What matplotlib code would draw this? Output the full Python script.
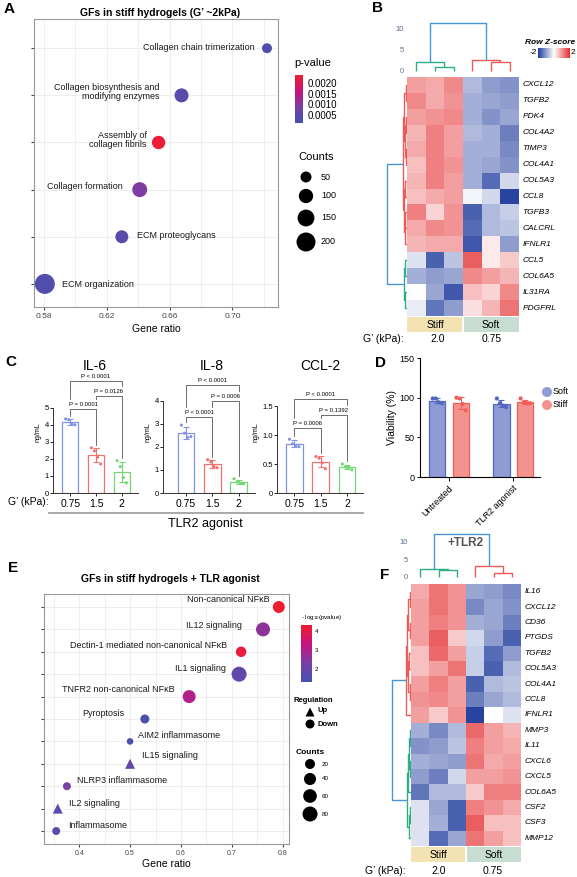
import numpy as np
import matplotlib.pyplot as plt
from matplotlib.colors import LinearSegmentedColormap, Normalize
from matplotlib.patches import Rectangle

plt.rcParams['font.family'] = ['Liberation Sans', 'DejaVu Sans']
plt.rcParams['mathtext.fontset'] = 'custom'
plt.rcParams['mathtext.rm'] = 'Liberation Sans'

# ---------------- data ----------------
# A: pathway enrichment, stiff hydrogels
a_terms = ['ECM organization', 'ECM proteoglycans', 'Collagen formation',
           'Assembly of\ncollagen fibrils', 'Collagen biosynthesis and\nmodifying enzymes',
           'Collagen chain trimerization']
a_ratio = [0.5806, 0.6296, 0.641, 0.653, 0.6676, 0.722]
a_pval = [0.0003, 0.0004, 0.0009, 0.0023, 0.0004, 0.0003]
a_counts = [226, 78, 112, 84, 95, 38]

# B: heatmap (3 stiff, 3 soft)
b_genes = ['CXCL12', 'TGFB2', 'PDK4', 'COL4A2', 'TIMP3', 'COL4A1', 'COL5A3', 'CCL8',
           'TGFB3', 'CALCRL', 'IFNLR1', 'CCL5', 'COL6A5', 'IL31RA', 'PDGFRL']
b_z = [[0.9, 0.8, 1.1, -0.7, -1.0, -1.1],
       [1.1, 0.8, 1.0, -0.8, -0.9, -1.0],
       [0.9, 1.0, 1.1, -0.8, -1.1, -0.9],
       [0.7, 1.2, 0.9, -0.7, -0.8, -1.3],
       [0.8, 1.2, 0.9, -0.8, -0.8, -1.2],
       [0.6, 1.2, 1.0, -0.8, -0.9, -1.1],
       [0.7, 1.2, 0.9, -0.8, -1.5, -0.4],
       [0.6, 0.8, 0.9, -0.1, -0.4, -1.9],
       [1.2, 0.4, 1.0, -1.6, -0.7, -0.5],
       [0.8, 1.1, 1.0, -1.5, -0.7, -0.6],
       [0.7, 0.8, 0.8, -1.7, 0.2, -1.0],
       [-0.3, -1.6, -0.6, 1.5, 0.2, 0.5],
       [-0.8, -1.0, -0.9, 1.1, 0.9, 0.7],
       [0.0, -0.9, -1.7, 0.6, 0.4, 1.1],
       [-0.2, -1.4, -1.0, 0.3, 0.7, 1.3]]

# C: cytokines (ng/mL), G' 0.75 / 1.5 / 2 kPa
c_groups = ['0.75', '1.5', '2']
il6_pts = [[4.35, 4.3, 4.06, 4.0], [2.65, 2.47, 2.1, 1.7], [1.9, 1.55, 0.9, 0.6]]
il8_pts = [[2.95, 2.6, 2.42, 2.45], [1.45, 1.35, 1.15, 1.1], [0.62, 0.48, 0.42, 0.40]]
ccl2_pts = [[0.93, 0.85, 0.82, 0.8], [0.63, 0.60, 0.52, 0.42], [0.50, 0.45, 0.44, 0.40]]
il6_sig = [(0, 1, 'P = 0.0001'), (1, 2, 'P = 0.0126'), (0, 2, 'P < 0.0001')]
il8_sig = [(0, 1, 'P < 0.0001'), (1, 2, 'P = 0.0006'), (0, 2, 'P < 0.0001')]
ccl2_sig = [(0, 1, 'P = 0.0006'), (1, 2, 'P = 0.1392'), (0, 2, 'P < 0.0001')]

# D: viability (%)
d_groups = ['Untreated', 'TLR2 agonist']
d_soft_pts = [[99, 99, 94, 93], [99, 93, 90, 88]]
d_stiff_pts = [[100, 99, 92, 84], [99, 94, 93, 93]]

# E: pathway enrichment + TLR agonist
e_terms = ['Inflammasome', 'IL2 signaling', 'NLRP3 inflammasome', 'IL15 signaling',
           'AIM2 inflammasome', 'Pyroptosis', 'TNFR2 non-canonical NFκB', 'IL1 signaling',
           'Dectin-1 mediated non-canonical NFκB', 'IL12 signaling', 'Non-canonical NFκB']
e_ratio = [0.355, 0.358, 0.376, 0.5, 0.5, 0.529, 0.616, 0.714, 0.718, 0.761, 0.792]
e_logp = [1.8, 1.8, 2.3, 2.0, 1.5, 1.5, 3.0, 1.9, 4.1, 2.6, 4.25]
e_counts = [7, 20, 7, 20, 2, 13, 51, 80, 24, 65, 39]
e_reg = ['Down', 'Up', 'Down', 'Up', 'Down', 'Down', 'Down', 'Down', 'Down', 'Down', 'Down']

# F: heatmap + TLR2
f_genes = ['IL16', 'CXCL12', 'CD36', 'PTGDS', 'TGFB2', 'COL5A3', 'COL4A1', 'CCL8', 'IFNLR1',
           'MMP3', 'IL11', 'CXCL6', 'CXCL5', 'COL6A5', 'CSF2', 'CSF3', 'MMP12']
f_z = [[0.8, 1.3, 1.0, -0.9, -1.0, -1.2],
       [0.9, 1.3, 1.0, -1.2, -0.9, -1.1],
       [0.9, 1.2, 1.0, -0.8, -0.9, -1.3],
       [0.9, 1.5, 0.5, -0.4, -1.0, -1.6],
       [0.6, 1.4, 0.9, -0.5, -1.5, -1.0],
       [0.6, 0.9, 1.3, -0.5, -1.6, -0.7],
       [0.9, 1.2, 0.9, -1.6, -0.7, -0.6],
       [1.0, 1.1, 0.9, -1.3, -0.9, -0.7],
       [0.9, 0.5, 1.0, -1.9, 0.0, -0.3],
       [-0.8, -1.2, -0.7, 1.4, 0.9, 0.7],
       [-1.1, -1.0, -0.6, 1.2, 0.9, 0.8],
       [-0.8, -0.9, -1.0, 1.3, 0.8, 0.9],
       [-1.0, -1.3, -0.4, 0.9, 0.9, 1.0],
       [-1.4, -0.7, -0.7, 0.5, 1.2, 1.2],
       [-0.3, -0.9, -1.6, 1.2, 1.0, 0.8],
       [-0.3, -0.8, -1.6, 1.5, 0.6, 0.6],
       [-0.3, -1.5, -0.9, 1.3, 0.9, 0.6]]

# ---------------- helpers ----------------
W, H = 577, 877
fig = plt.figure(figsize=(W / 100, H / 100), dpi=100)


def box(x0, y0, x1, y1):
    return fig.add_axes([x0 / W, 1 - y1 / H, (x1 - x0) / W, (y1 - y0) / H])


def put(x, y, s, **kw):
    kw.setdefault('ha', 'left')
    kw.setdefault('va', 'center')
    fig.text(x / W, 1 - y / H, s, **kw)


def size_a(c):
    return ((3 + 1.13 * np.sqrt(c)) * 0.72) ** 2


def size_e(c):
    return ((5 + 1.118 * np.sqrt(c)) * 0.72) ** 2


cmap_pv = LinearSegmentedColormap.from_list('pv', ['#4352B0', '#7A3FA5', '#C8127F', '#F21E2E'])
cmap_hm = LinearSegmentedColormap.from_list('hm', ['#1E3A9C', '#ffffff', '#E42A2C'])
GREEN, RED, BLUE = '#2FAE84', '#EE5B57', '#4796D8'


def merge(ax, a, b, h, color, horiz=False):
    (pa, ha), (pb, hb) = a, b
    xs, ys = [pa, pa, pb, pb], [ha, h, h, hb]
    if horiz:
        ax.plot(ys, xs, color=color, lw=1.0, solid_capstyle='butt')
    else:
        ax.plot(xs, ys, color=color, lw=1.0, solid_capstyle='butt')
    return ((pa + pb) / 2, h)


def leaf(i):
    return (i + 0.5, 0)


def heat(ax, z, genes):
    ax.pcolormesh(np.arange(7), np.arange(len(genes) + 1), np.array(z), cmap=cmap_hm, vmin=-2, vmax=2)
    ax.set_xlim(0, 6)
    ax.set_ylim(len(genes), 0)
    ax.axis('off')
    for i, g in enumerate(genes):
        ax.text(6.2, i + 0.5, g, style='italic', fontsize=6, va='center', ha='left', clip_on=False)


def col_dendro(ax, ylo, yhi):
    ax.set_xlim(0, 6)
    ax.set_ylim(ylo, yhi)
    for s in ax.spines.values():
        s.set_visible(False)
    ax.set_xticks([])
    ax.set_yticks([0, 5, 10])
    ax.tick_params(axis='y', length=0, labelsize=5.5, labelcolor='#5B6B8C', pad=2)
    ax.patch.set_alpha(0)


def stiff_soft(x0, y0, x1, y1):
    ax = box(x0, y0, x1, y1)
    ax.set_xlim(0, 6)
    ax.set_ylim(0, 1)
    ax.axis('off')
    ax.add_patch(Rectangle((0, 0), 2.95, 1, color='#F3E3B3', lw=0))
    ax.add_patch(Rectangle((3.05, 0), 2.95, 1, color='#C8DDD1', lw=0))
    ax.text(1.5, 0.45, 'Stiff', ha='center', va='center', fontsize=7.5)
    ax.text(4.5, 0.45, 'Soft', ha='center', va='center', fontsize=7.5)


def grad_bar(ax, lo, hi, cmap, horizontal=False):
    g = np.linspace(lo, hi, 256)
    if horizontal:
        ax.imshow(g[None, :], aspect='auto', cmap=cmap, extent=[lo, hi, 0, 1], origin='lower')
    else:
        ax.imshow(g[:, None], aspect='auto', cmap=cmap, extent=[0, 1, lo, hi], origin='lower')


# ---------------- panel A ----------------
put(4, 9, 'A', weight='bold', fontsize=11)
put(160, 13, 'GFs in stiff hydrogels (G’ ~2kPa)', ha='center', weight='bold', fontsize=7.5)
axA = box(34, 19, 278, 307)
ya = np.arange(1, len(a_terms) + 1)
norm_a = Normalize(0.0001, 0.0024)
axA.scatter(a_ratio, ya, s=[size_a(c) for c in a_counts], c=a_pval, cmap=cmap_pv, norm=norm_a,
            edgecolors='none', zorder=3)
axA.set_xlim(0.5737, 0.729)
axA.set_ylim(0.51, 6.62)
axA.set_xticks([0.58, 0.62, 0.66, 0.70])
axA.set_xticklabels(['0.58', '0.62', '0.66', '0.70'])
axA.set_xticks([0.60, 0.64, 0.68, 0.72], minor=True)
axA.set_yticks(ya)
axA.set_yticklabels([])
axA.grid(True, which='both', color='#EBEBEB', lw=0.6)
axA.set_axisbelow(True)
axA.tick_params(which='major', length=2, color='#444', labelsize=6, labelcolor='#444', pad=2)
axA.tick_params(which='minor', length=0)
for s in axA.spines.values():
    s.set_color('#999999')
    s.set_linewidth(0.8)
axA.set_xlabel('Gene ratio', fontsize=7.5, labelpad=3)
a_off = [(17, -1, 'left'), (15, 1, 'left'), (-17, 3, 'right'), (-12, 2, 'right'), (-22, 3, 'right'),
         (-12, 1, 'right')]
for t, x, y, (dx, dy, ha) in zip(a_terms, a_ratio, ya, a_off):
    axA.annotate(t, (x, y), xytext=(dx, dy), textcoords='offset pixels', ha=ha, va='center',
                 fontsize=6.5, linespacing=1.0, color='#1a1a1a')

put(294, 63, 'p-value', fontsize=8)
cbA = box(295, 75, 303, 123)
grad_bar(cbA, 0.0001, 0.0024, cmap_pv)
cbA.set_xticks([])
cbA.yaxis.tick_right()
cbA.set_yticks([0.0005, 0.0010, 0.0015, 0.0020])
cbA.set_yticklabels(['0.0005', '0.0010', '0.0015', '0.0020'])
cbA.tick_params(length=0, labelsize=7, pad=3)
for s in cbA.spines.values():
    s.set_visible(False)
put(298, 157, 'Counts', fontsize=8)

# ---------------- panel B ----------------
put(372, 8, 'B', weight='bold', fontsize=11)
axB = box(407, 77, 519, 316)
heat(axB, b_z, b_genes)
axBd = box(407, 18, 519, 77)
col_dendro(axBd, -1.43, 12.6)
L = [leaf(i) for i in range(6)]
g = merge(axBd, L[0], merge(axBd, L[1], L[2], 0.95, GREEN), 2.1, GREEN)
r = merge(axBd, L[3], merge(axBd, L[4], L[5], 2.1, RED), 2.6, RED)
merge(axBd, g, r, 11.4, BLUE)

axBr = box(381, 77, 407, 316)
axBr.set_ylim(15, 0)
axBr.set_xlim(6.5, 0)
axBr.axis('off')
R = [leaf(i) for i in range(15)]
c01 = merge(axBr, R[0], R[1], 0.35, RED, True)
c23 = merge(axBr, R[2], R[3], 0.3, RED, True)
c45 = merge(axBr, R[4], R[5], 0.25, RED, True)
c0_5 = merge(axBr, c01, merge(axBr, c23, c45, 0.5, RED, True), 0.7, RED, True)
c67 = merge(axBr, R[6], R[7], 0.4, RED, True)
c8_10 = merge(axBr, merge(axBr, R[8], R[9], 0.45, RED, True), R[10], 0.6, RED, True)
red = merge(axBr, c0_5, merge(axBr, c67, c8_10, 0.8, RED, True), 1.0, RED, True)
green = merge(axBr, merge(axBr, R[11], R[12], 0.4, GREEN, True),
              merge(axBr, R[13], R[14], 0.45, GREEN, True), 0.8, GREEN, True)
merge(axBr, red, green, 5.0, BLUE, True)

put(575, 43, 'Row Z-score', ha='right', style='italic', weight='bold', fontsize=6)
cbB = box(538, 48, 570, 58)
grad_bar(cbB, -2, 2, cmap_hm, horizontal=True)
cbB.axis('off')
put(537, 53, '-2', ha='right', fontsize=6)
put(571, 53, '2', fontsize=6)
stiff_soft(407, 317, 519, 332)
put(363, 339, 'G’ (kPa):', fontsize=7.5)
put(438, 339, '2.0', ha='center', fontsize=7.5)
put(492, 339, '0.75', ha='center', fontsize=7.5)

# ---------------- panel C ----------------
put(5, 362, 'C', weight='bold', fontsize=11)
c_cols = ['#8193E2', '#F2706E', '#72D672']
c_titles = ['IL-6', 'IL-8', 'CCL-2']
c_pts = [il6_pts, il8_pts, ccl2_pts]
c_sig = [il6_sig, il8_sig, ccl2_sig]
c_levels = [[4.9, 5.7, 6.6], [3.3, 4.0, 4.7], [1.12, 1.35, 1.62]]
c_boxes = [(53, 372, 138, 493), (163, 372, 255, 493), (277, 372, 363, 493)]
c_ylim = [7.1, 5.26, 2.09]
c_xlim = [(-0.67, 2.63), (-0.88, 2.62), (-0.65, 2.6)]
c_yticks = [[0, 1, 2, 3, 4, 5], [0, 1, 2, 3, 4], [0, 0.5, 1.0, 1.5]]
c_ytl = [['0', '1', '2', '3', '4', '5'], ['0', '1', '2', '3', '4'], ['0', '0.5', '1.0', '1.5']]
c_title_x = [95, 212, 320]
jit = np.array([-0.18, -0.06, 0.06, 0.18])
for k in range(3):
    ax = box(*c_boxes[k])
    pts = c_pts[k]
    means = [np.mean(p) for p in pts]
    sds = [np.std(p, ddof=1) for p in pts]
    xs = np.arange(3)
    ax.bar(xs, means, width=0.63, facecolor='white', edgecolor=c_cols, lw=0.9, zorder=2)
    for i in range(3):
        ax.errorbar(xs[i], means[i], yerr=sds[i], color=c_cols[i], capsize=2.2, lw=0.8,
                    capthick=0.8, zorder=3)
        ax.scatter(xs[i] + jit, pts[i], s=5, color=c_cols[i], zorder=4, edgecolors='none')
    ax.set_xlim(*c_xlim[k])
    ax.set_ylim(0, c_ylim[k])
    ax.spines['top'].set_visible(False)
    ax.spines['right'].set_visible(False)
    ax.spines['left'].set_bounds(0, c_yticks[k][-1])
    for s in ('left', 'bottom'):
        ax.spines[s].set_linewidth(0.7)
        ax.spines[s].set_color('#333')
    ax.set_yticks(c_yticks[k])
    ax.set_yticklabels(c_ytl[k])
    ax.set_xticks(xs)
    ax.set_xticklabels(c_groups)
    ax.tick_params(axis='y', length=2, width=0.6, labelsize=5.5, pad=1)
    ax.tick_params(axis='x', length=2.5, width=0.6, labelsize=7.5, pad=1.5)
    ax.set_ylabel('ng/mL', fontsize=5, labelpad=2)
    ax.patch.set_alpha(0)
    put(c_title_x[k], 366, c_titles[k], ha='center', fontsize=10)
    # significance brackets
    upp = c_ylim[k] / 121.0
    tops = [max(max(p), m + s) for p, m, s in zip(pts, means, sds)]
    placed = []
    for (i, j, lab), lev in zip(c_sig[k], c_levels[k]):
        legs = []
        for b in (i, j):
            bot = tops[b]
            for (pi, pj, plev) in placed:
                if pi <= b <= pj:
                    bot = max(bot, plev + 7 * upp)
            legs.append(bot + 3 * upp)
        ax.plot([i, i, j, j], [legs[0], lev, lev, legs[1]], color='#555', lw=0.6,
                clip_on=False, zorder=5)
        ax.text((i + j) / 2, lev + 2 * upp, lab, ha='center', va='bottom', fontsize=4.3,
                clip_on=False)
        placed.append((i, j, lev))

put(8, 502, 'G’ (kPa):', fontsize=7.5)
put(205, 524, 'TLR2 agonist', ha='center', fontsize=9)

# ---------------- panel D ----------------
put(375, 363, 'D', weight='bold', fontsize=11)
axD = box(420, 358, 540, 477)
xd = np.arange(2)
soft_fill, soft_edge = '#8E9BD4', '#5367C0'
stiff_fill, stiff_edge = '#F4928E', '#EF5E5A'
for pts_list, off, fc, ec in [(d_soft_pts, -0.18, soft_fill, soft_edge),
                              (d_stiff_pts, 0.19, stiff_fill, stiff_edge)]:
    m = [np.mean(p) for p in pts_list]
    sd = [np.std(p, ddof=1) for p in pts_list]
    axD.bar(xd + off, m, width=0.25, color=fc, edgecolor=ec, lw=0.9, zorder=2)
    axD.errorbar(xd + off, m, yerr=sd, fmt='none', ecolor=ec, capsize=2.2, lw=0.8, capthick=0.8, zorder=3)
    for i in range(2):
        axD.scatter(xd[i] + off + jit * 0.4, pts_list[i], s=9, color=ec, zorder=4, edgecolors='none')
axD.set_xlim(-0.45, 1.42)
axD.set_ylim(0, 150)
axD.set_yticks([0, 50, 100, 150])
axD.set_xticks(xd)
axD.set_xticklabels(d_groups, rotation=45, ha='right', rotation_mode='anchor')
axD.spines['top'].set_visible(False)
axD.spines['right'].set_visible(False)
for s in ('left', 'bottom'):
    axD.spines[s].set_linewidth(0.8)
axD.tick_params(axis='y', length=2.5, width=0.7, labelsize=6.5, pad=1.5)
axD.tick_params(axis='x', length=3, width=0.7, labelsize=6.5, pad=2)
axD.set_ylabel('Viability (%)', fontsize=7.5, labelpad=2)
axD.patch.set_alpha(0)
put(553, 392, 'Soft', fontsize=6.5)
put(553, 405, 'Stiff', fontsize=6.5)

# ---------------- panel E ----------------
put(8, 568, 'E', weight='bold', fontsize=11)
put(170, 579, 'GFs in stiff hydrogels + TLR agonist', ha='center', weight='bold', fontsize=7.5)
axE = box(44, 594, 289, 844)
ye = np.arange(len(e_terms))
norm_e = Normalize(1.35, 4.3)
for reg, mk in [('Down', 'o'), ('Up', '^')]:
    idx = [i for i, r_ in enumerate(e_reg) if r_ == reg]
    axE.scatter([e_ratio[i] for i in idx], ye[idx], s=[size_e(e_counts[i]) for i in idx],
                c=[e_logp[i] for i in idx], cmap=cmap_pv, norm=norm_e, marker=mk,
                edgecolors='none', zorder=3)
axE.set_xlim(0.331, 0.812)
axE.set_ylim(-0.58, 10.58)
axE.set_xticks([0.4, 0.5, 0.6, 0.7, 0.8])
axE.set_xticklabels(['0.4', '0.5', '0.6', '0.7', '0.8'])
axE.set_xticks([0.35, 0.45, 0.55, 0.65, 0.75], minor=True)
axE.set_yticks(ye)
axE.set_yticklabels([])
axE.grid(True, which='both', color='#EBEBEB', lw=0.6)
axE.set_axisbelow(True)
axE.tick_params(which='major', length=2, color='#444', labelsize=5, labelcolor='#444', pad=2)
axE.tick_params(which='minor', length=0)
for s in axE.spines.values():
    s.set_color('#999999')
    s.set_linewidth(0.8)
axE.set_xlabel('Gene ratio', fontsize=7.5, labelpad=2)
e_off = [(12, 6, 'left'), (11, 5, 'left'), (10, 6, 'left'), (12, 8, 'left'), (8, 6, 'left'),
         (-20, 5, 'right'), (-15, 7, 'right'), (-13, 6, 'right'), (-14, 6, 'right'),
         (-21, 4, 'right'), (-9, 7, 'right')]
for t, x, y, (dx, dy, ha) in zip(e_terms, e_ratio, ye, e_off):
    axE.annotate(t, (x, y), xytext=(dx, dy), textcoords='offset pixels', ha=ha, va='center',
                 fontsize=6.5, color='#1a1a1a')

put(301, 617, r'- log$_{10}$(pvalue)', fontsize=4.5)
cbE = box(301, 625, 312, 682)
grad_bar(cbE, 1.35, 4.3, cmap_pv)
cbE.set_xticks([])
cbE.yaxis.tick_right()
cbE.set_yticks([2, 3, 4])
cbE.set_yticklabels(['2', '3', '4'])
cbE.tick_params(length=0, labelsize=4.5, pad=2)
for s in cbE.spines.values():
    s.set_visible(False)
put(294, 700, 'Regulation', weight='bold', fontsize=5.5)
put(317, 711, 'Up', weight='bold', fontsize=5.5)
put(317, 724, 'Down', weight='bold', fontsize=5.5)
put(296, 752, 'Counts', weight='bold', fontsize=6)

# ---------------- panel F ----------------
put(380, 575, 'F', weight='bold', fontsize=11)
axF = box(411, 584, 521, 846)
heat(axF, f_z, f_genes)
axFd = box(411, 530, 521, 584)
col_dendro(axFd, -2.0, 13.4)
g = merge(axFd, L[0], merge(axFd, L[1], L[2], 1.9, GREEN), 2.3, GREEN)
r = merge(axFd, L[3], merge(axFd, L[4], L[5], 1.1, RED), 3.0, RED)
merge(axFd, g, r, 12.2, BLUE)
axFd.text(3.0, 9.8, '+TLR2', ha='center', va='center', fontsize=8.5, weight='bold', color='#555')

axFr = box(388, 584, 411, 846)
axFr.set_ylim(17, 0)
axFr.set_xlim(5.5, 0)
axFr.axis('off')
R = [leaf(i) for i in range(17)]
c0_3 = merge(axFr, merge(axFr, R[0], R[1], 0.3, RED, True), merge(axFr, R[2], R[3], 0.35, RED, True),
             0.6, RED, True)
c4_7 = merge(axFr, merge(axFr, R[4], R[5], 0.4, RED, True), merge(axFr, R[6], R[7], 0.3, RED, True),
             0.7, RED, True)
red = merge(axFr, merge(axFr, c0_3, c4_7, 0.9, RED, True), R[8], 1.1, RED, True)
g9_12 = merge(axFr, merge(axFr, R[9], R[10], 0.3, GREEN, True), merge(axFr, R[11], R[12], 0.35, GREEN, True),
              0.5, GREEN, True)
g9_13 = merge(axFr, g9_12, R[13], 0.7, GREEN, True)
g14_16 = merge(axFr, merge(axFr, R[14], R[15], 0.3, GREEN, True), R[16], 0.45, GREEN, True)
green = merge(axFr, g9_13, g14_16, 0.9, GREEN, True)
merge(axFr, red, green, 4.5, BLUE, True)

stiff_soft(411, 847, 521, 862)
put(365, 871, 'G’ (kPa):', fontsize=7.5)
put(439, 871, '2.0', ha='center', fontsize=7.5)
put(493, 871, '0.75', ha='center', fontsize=7.5)

# ---------------- overlay: lines and legend glyphs in pixel space ----------------
ov = fig.add_axes([0, 0, 1, 1])
ov.set_xlim(0, W)
ov.set_ylim(H, 0)
ov.axis('off')
ov.plot([49, 363], [513, 513], color='#999999', lw=1.2)
ov.scatter([306] * 4, [177, 196, 218, 242], s=[size_a(c) for c in [50, 100, 150, 200]], color='black',
           edgecolors='none')
for yy, lab in zip([177, 196, 218, 242], ['50', '100', '150', '200']):
    ov.text(321, yy, lab, fontsize=6.5, va='center')
ov.scatter([547, 547], [392, 405], s=(10 * 0.72) ** 2, color=[soft_fill, stiff_fill], edgecolors='none')
ov.scatter([310], [712], marker='^', s=(9 * 0.72) ** 2, color='black', edgecolors='none')
ov.scatter([310], [724], marker='o', s=(9 * 0.72) ** 2, color='black', edgecolors='none')
ov.scatter([310] * 4, [764, 779, 796, 814], s=[size_e(c) for c in [20, 40, 60, 80]], color='black',
           edgecolors='none')
for yy, lab in zip([764, 779, 796, 814], ['20', '40', '60', '80']):
    ov.text(322, yy, lab, fontsize=4.5, va='center')

fig.savefig('out.png', dpi=100)
